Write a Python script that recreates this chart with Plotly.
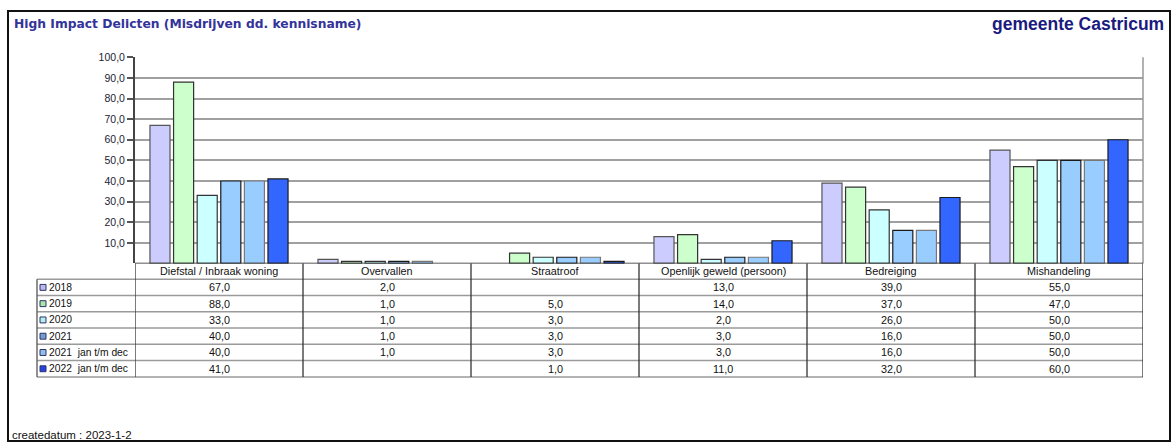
import plotly.graph_objects as go

# ---------------- data ----------------
categories = ["Diefstal / Inbraak woning", "Overvallen", "Straatroof",
              "Openlijk geweld (persoon)", "Bedreiging", "Mishandeling"]
series_names = ["2018", "2019", "2020", "2021", "2021\u00a0\u00a0jan t/m dec", "2022\u00a0\u00a0jan t/m dec"]
v2018 = [67, 2, None, 13, 39, 55]
v2019 = [88, 1, 5, 14, 37, 47]
v2020 = [33, 1, 3, 2, 26, 50]
v2021 = [40, 1, 3, 3, 16, 50]
v2021_jd = [40, 1, 3, 3, 16, 50]
v2022_jd = [41, None, 1, 11, 32, 60]
series_values = [v2018, v2019, v2020, v2021, v2021_jd, v2022_jd]
tick_vals = [10, 20, 30, 40, 50, 60, 70, 80, 90, 100]
tick_text = ["10,0", "20,0", "30,0", "40,0", "50,0", "60,0", "70,0", "80,0", "90,0", "100,0"]

# ---------------- style ----------------
colors = ["#CCCCFF", "#CCFFCC", "#CCFFFF", "#99CCFF", "#99CCFF", "#3366FF"]
outlines = ["#555555", "#333333", "#333333", "#1a1a1a", "#777777", "#1a1a1a"]
marker_colors = ["#B8B8F0", "#A8E8A8", "#B0F0F0", "#6F9FD0", "#8FBFF0", "#2244DD"]

W, H = 1173, 442
PX_L, PX_R = 135, 1143        # plot area left / right (px)
PX_TOP, PX_ZERO = 52, 261     # y=100 and y=0 (px)
ROW0 = 277                    # top of first data row (px)
ROW_H = 16.5
TABLE_L = 37

def fx(px):
    return px / W

def fy(py):
    return 1 - py / H

x_idx = list(range(len(categories)))

fig = go.Figure()
for name, vals, c, oc in zip(series_names, series_values, colors, outlines):
    fig.add_trace(go.Bar(
        x=x_idx, y=vals, name=name,
        marker=dict(color=c, line=dict(color=oc, width=1.2)),
        showlegend=False,
    ))

shapes = []
annotations = []

# outer frame
shapes.append(dict(type="rect", xref="paper", yref="paper",
                   x0=fx(8), x1=fx(1170), y0=fy(441), y1=fy(5),
                   line=dict(color="#111111", width=2)))
# plot right border
shapes.append(dict(type="line", xref="paper", yref="paper",
                   x0=fx(PX_R), x1=fx(PX_R), y0=fy(PX_ZERO), y1=fy(PX_TOP),
                   line=dict(color="#999999", width=1.5)))

n_rows = len(series_names)
table_bottom = ROW0 + ROW_H * n_rows
# horizontal table lines
for i in range(n_rows + 1):
    yy = fy(ROW0 + ROW_H * i)
    shapes.append(dict(type="line", xref="paper", yref="paper",
                       x0=fx(TABLE_L), x1=fx(PX_R), y0=yy, y1=yy,
                       line=dict(color="#9a9a9a", width=1.5)))
# vertical separators between categories
for k in range(len(categories) + 1):
    shapes.append(dict(type="line", xref="x", yref="paper",
                       x0=k - 0.5, x1=k - 0.5, y0=fy(table_bottom), y1=fy(PX_ZERO),
                       line=dict(color="#333333", width=1.3)))
# legend column left border
shapes.append(dict(type="line", xref="paper", yref="paper",
                   x0=fx(TABLE_L), x1=fx(TABLE_L), y0=fy(table_bottom), y1=fy(ROW0),
                   line=dict(color="#555555", width=1.3)))
# zero line
shapes.append(dict(type="line", xref="paper", yref="y",
                   x0=fx(PX_L), x1=fx(PX_R), y0=0, y1=0,
                   line=dict(color="#222222", width=1.5)))

tfont = dict(family="Liberation Sans, Arial", size=10.8, color="#111111")
lfont = dict(family="Liberation Sans, Arial", size=10.3, color="#111111")

# category header row
for k, cat in enumerate(categories):
    annotations.append(dict(x=k, y=fy((PX_ZERO + ROW0) / 2), xref="x", yref="paper",
                            text=cat, showarrow=False, font=tfont,
                            xanchor="center", yanchor="middle"))

# rows: legend markers, labels, values
for i, (name, vals) in enumerate(zip(series_names, series_values)):
    cy = ROW0 + ROW_H * i + ROW_H / 2
    shapes.append(dict(type="rect", xref="paper", yref="paper",
                       x0=fx(TABLE_L + 3), x1=fx(TABLE_L + 9),
                       y0=fy(cy + 3), y1=fy(cy - 3),
                       fillcolor=marker_colors[i], line=dict(color="#333366", width=1)))
    annotations.append(dict(x=fx(TABLE_L + 10), y=fy(cy), xref="paper", yref="paper",
                            text=name, showarrow=False, font=lfont,
                            xanchor="left", yanchor="middle"))
    for k, v in enumerate(vals):
        if v is None:
            continue
        annotations.append(dict(x=k, y=fy(cy), xref="x", yref="paper",
                                text=f"{v:.1f}".replace(".", ","), showarrow=False,
                                font=tfont, xanchor="center", yanchor="middle"))

# titles
annotations.append(dict(x=fx(12), y=fy(18), xref="paper", yref="paper",
                        text="<b>High Impact Delicten (Misdrijven dd. kennisname)</b>",
                        showarrow=False, xanchor="left", yanchor="middle",
                        font=dict(family="DejaVu Sans, Verdana", size=12.3, color="#333399")))
annotations.append(dict(x=fx(1166), y=fy(18), xref="paper", yref="paper",
                        text="<b>gemeente Castricum</b>",
                        showarrow=False, xanchor="right", yanchor="middle",
                        font=dict(family="Liberation Sans, Arial", size=17.5, color="#1a1a80")))
annotations.append(dict(x=fx(10), y=fy(435), xref="paper", yref="paper",
                        text="createdatum : 2023-1-2",
                        showarrow=False, xanchor="left", yanchor="middle",
                        font=dict(family="Liberation Sans, Arial", size=11.5, color="#111111")))

fig.update_layout(
    width=W, height=H,
    margin=dict(l=0, r=0, t=0, b=0),
    paper_bgcolor="white", plot_bgcolor="white",
    barmode="group", bargap=0.157, bargroupgap=0.15,
    shapes=shapes, annotations=annotations,
    xaxis=dict(domain=[fx(PX_L), fx(PX_R)], range=[-0.5, len(categories) - 0.5],
               showticklabels=False, showgrid=False, zeroline=False, ticks="",
               fixedrange=True),
    yaxis=dict(domain=[fy(PX_ZERO), fy(PX_TOP)], range=[0, 100],
               tickvals=tick_vals, ticktext=tick_text, ticks="outside", ticklen=6,
               tickcolor="#555555", tickwidth=1.5,
               showline=True, linecolor="#444444", linewidth=2,
               showgrid=True, gridcolor="#a0a0a0", gridwidth=1.6,
               zeroline=False,
               tickfont=dict(family="Liberation Sans, Arial", size=10.5, color="#222233"),
               fixedrange=True),
)

fig.write_html("out.html", config={"displayModeBar": False},
               post_script="document.body.style.margin='0';")
